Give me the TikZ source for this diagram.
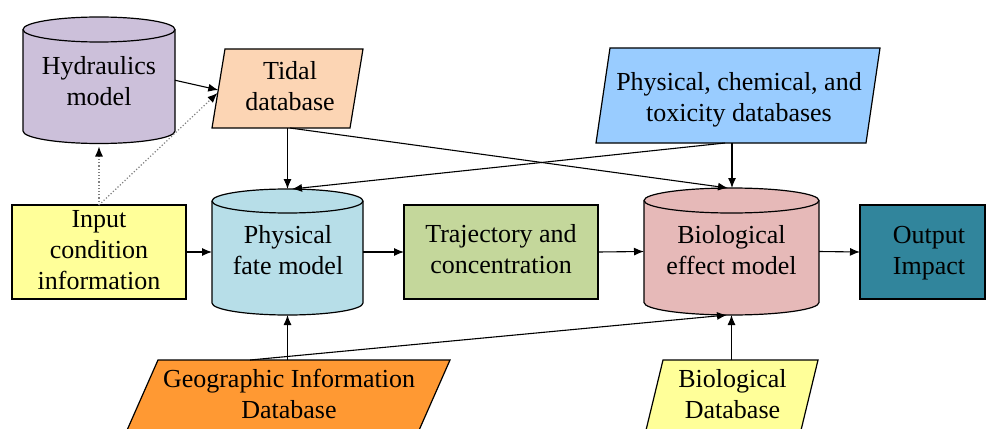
\documentclass[tikz,border=0pt]{standalone}
\usepackage{fontspec}
\setmainfont{Liberation Serif}
\usetikzlibrary{arrows.meta,calc}
\definecolor{lav}{HTML}{CCC0DA}
\definecolor{peach}{HTML}{FCD5B4}
\definecolor{skyb}{HTML}{99CCFF}
\definecolor{lyel}{HTML}{FFFF99}
\definecolor{lblue}{HTML}{B7DEE8}
\definecolor{olivg}{HTML}{C4D79B}
\definecolor{rose}{HTML}{E6B9B8}
\definecolor{teal2}{HTML}{31859C}
\definecolor{orng}{HTML}{FF9933}
\begin{document}
\begin{tikzpicture}[x=1pt,y=-1pt,
  outline/.style={draw=black, line width=1.2pt},
  area/.style={inner sep=0pt, outer sep=0pt},
  txt/.style={font=\fontsize{26}{31}\selectfont, align=center, inner sep=0pt},
  rectbox/.style={outline, txt, inner sep=0pt, outer sep=0pt},
  edge/.style={line width=1.1pt, -{Latex[length=10pt,width=8pt]}},
  dots/.style={line width=1.2pt, draw=gray, dotted, -{Latex[length=10pt,width=8pt,color=black]}}
]
\useasboundingbox (0,0) rectangle (987,428);
\begin{scope}
\clip (0,0) rectangle (987,428);

% Hydraulics cylinder
\draw[outline, fill=lav] (23,29.5) -- (23,131)
  arc[start angle=180,end angle=360,x radius=76pt,y radius=12.5pt] -- (175,29.5)
  arc[start angle=0,end angle=180,x radius=76pt,y radius=12.5pt] -- cycle;
\draw[outline] (23,29.5) arc[start angle=180,end angle=360,x radius=76pt,y radius=12.5pt];
\node[area, minimum width=152pt, minimum height=126.5pt] (hyd) at (99,80.25) {};
\node[txt] (hydt) at (99,83.3) {\strut Hydraulics\\\strut model};

% Tidal database
\draw[outline, fill=peach] (225,49) -- (363,49) -- (350,128) -- (212,128) -- cycle;
\node[area, minimum width=151pt, minimum height=79pt] (tidal) at (287.5,88.5) {};
\node[txt] (tidalt) at (290,89) {\strut Tidal\\\strut database};

% Physical, chemical and toxicity databases
\draw[outline, fill=skyb] (610,48) -- (880,48) -- (866,143) -- (596,143) -- cycle;
\node[area, minimum width=284pt, minimum height=95pt] (chem) at (738,95.5) {};
\node[txt] (chemt) at (739,100) {\strut Physical, chemical, and\\\strut toxicity databases};

% Input condition information
\node[rectbox, fill=lyel, minimum width=174pt, minimum height=94pt] (inp) at (99,252)
  {\strut Input\\\strut condition\\\strut information};

% Physical fate model cylinder
\draw[outline, fill=lblue] (212,201) -- (212,303)
  arc[start angle=180,end angle=360,x radius=75.5pt,y radius=12pt] -- (363,201)
  arc[start angle=0,end angle=180,x radius=75.5pt,y radius=12pt] -- cycle;
\draw[outline] (212,201) arc[start angle=180,end angle=360,x radius=75.5pt,y radius=12pt];
\node[area, minimum width=151pt, minimum height=126pt] (fate) at (287.5,252) {};
\node[txt] (fatet) at (288,253) {\strut Physical\\\strut fate model};

% Trajectory and concentration
\node[rectbox, fill=olivg, minimum width=194pt, minimum height=94pt] (traj) at (501,252)
  {\strut Trajectory and\\\strut concentration};

% Biological effect model cylinder
\draw[outline, fill=rose] (644,200.5) -- (644,302.5)
  arc[start angle=180,end angle=360,x radius=87.5pt,y radius=12.5pt] -- (819,200.5)
  arc[start angle=0,end angle=180,x radius=87.5pt,y radius=12.5pt] -- cycle;
\draw[outline] (644,200.5) arc[start angle=180,end angle=360,x radius=87.5pt,y radius=12.5pt];
\node[area, minimum width=175pt, minimum height=127pt] (bio) at (731.5,251.5) {};
\node[txt] (biot) at (731.5,253) {\strut Biological\\\strut effect model};

% Output impact
\node[rectbox, fill=teal2, minimum width=125pt, minimum height=94pt] (out) at (922.5,252) {};
\node[txt] (outt) at (929,253) {\strut Output\\\strut Impact};

% Geographic Information Database
\draw[outline, fill=orng] (158,360) -- (450,360) -- (410.3,450) -- (118.3,450) -- cycle;
\node[area, minimum width=331.7pt, minimum height=90pt] (gis) at (284.15,405) {};
\node[txt] (gist) at (289,397) {\strut Geographic Information\\\strut Database};

% Biological Database
\draw[outline, fill=lyel] (663,360) -- (818,360) -- (796.2,450) -- (641.2,450) -- cycle;
\node[area, minimum width=176.8pt, minimum height=90pt] (biodb) at (729.6,405) {};
\node[txt] (biodbt) at (732.5,397) {\strut Biological\\\strut Database};

% connectors
\draw[edge] (hyd.east) -- ($(tidal.west)+(6.3,1.5)$);
\draw[dots] (inp.north) -- ($(hyd.south)+(0,3)$);
\draw[dots] (inp.north) -- ($(tidal.west)+(5.5,4.5)$);
\draw[edge] (tidal.south) -- (fate.north);
\draw[edge] ($(tidal.south)+(2.5,0)$) -- ($(bio.north)+(-3.5,0)$);
\draw[edge] ($(chem.south)+(-6,0)$) -- ($(bio.north)+(0.5,0)$);
\draw[edge] ($(chem.south)+(-13,0)$) -- ($(fate.north)+(4.5,0)$);
\draw[edge] (inp.east) -- (fate.west);
\draw[edge] (fate.east) -- (traj.west);
\draw[edge] (traj.east) -- (bio.west);
\draw[edge] (bio.east) -- (out.west);
\draw[edge] ($(gis.north)+(3.35,0)$) -- (fate.south);
\draw[edge] ($(gis.north)+(-34,0)$) -- ($(bio.south)+(-4.5,0)$);
\draw[edge] ($(biodb.north)+(1.9,0)$) -- (bio.south);
\end{scope}
\end{tikzpicture}
\end{document}
